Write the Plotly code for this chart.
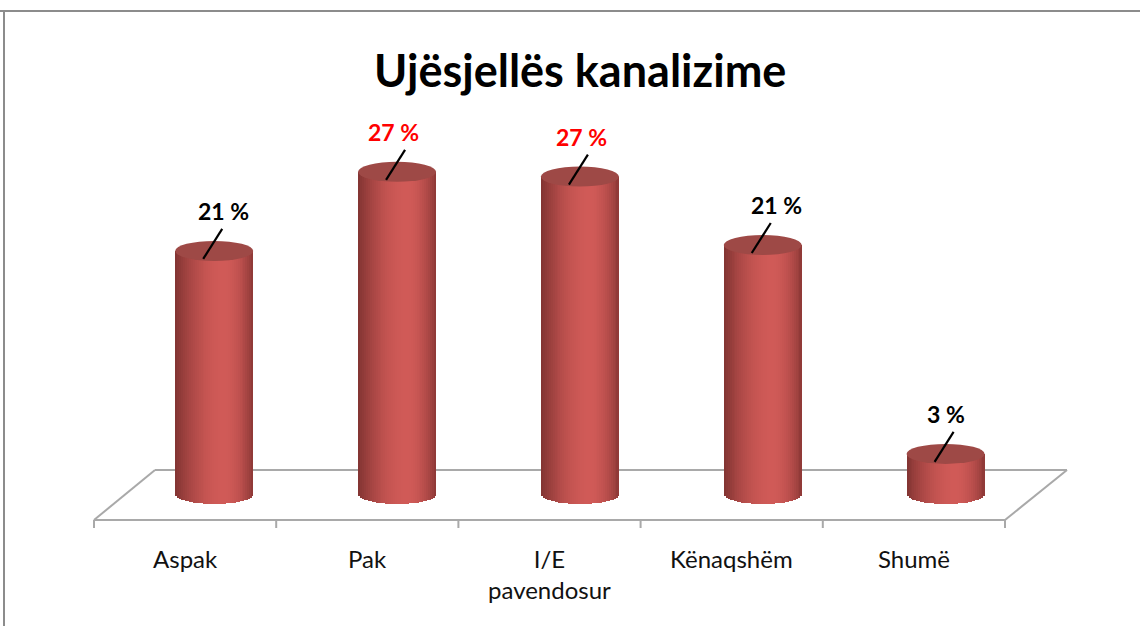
import numpy as np
import plotly.graph_objects as go

# ---------------- data ----------------
categories = ["Aspak", "Pak", "I/E<br>pavendosur", "Kënaqshëm", "Shumë"]
values = [20.6, 27.3, 26.9, 21.1, 3.4]          # percent
value_labels = ["21 %", "27 %", "27 %", "21 %", "3 %"]
title_text = "Ujësjellës kanalizime"

# ---------------- geometry / style ----------------
W_PX, H_PX = 1140, 626
X0_PX, X_STEP = 214.2, 182.85   # pixel of first cylinder centre, pixels per category
Y0_PX, Y_STEP = 494.0, 11.8     # pixel of base, pixels per percent


def px2x(p):
    return (p - X0_PX) / X_STEP


def py2y(p):
    return (Y0_PX - p) / Y_STEP


BW = 78 / X_STEP          # cylinder width (axis units)
RY = 10 / Y_STEP          # ellipse half height (axis units)
FONT = "Lato"

dark_l = np.array([0x80, 0x33, 0x31])
light = np.array([0xd0, 0x5a, 0x57])
dark_r = np.array([0x8a, 0x37, 0x35])
peak = 0.62


def shade(u):
    if u < peak:
        f = np.sin(u / peak * np.pi / 2) ** 0.9
        c = dark_l + (light - dark_l) * f
    else:
        f = np.cos((u - peak) / (1 - peak) * np.pi / 2) ** 0.8
        c = dark_r + (light - dark_r) * f
    c = np.clip(c.round().astype(int), 0, 255)
    return "rgb({},{},{})".format(*c)


xs = list(range(len(values)))
fig = go.Figure()

# cylinders as vertical strips with curved bottoms
N = 40
for k in range(N):
    u0 = k / N
    um = (k + 0.5) / N
    t = 2 * um - 1
    base = -RY * np.sqrt(max(0.0, 1 - t * t))
    wid = BW / N * (1.3 if k < N - 1 else 1.0)
    fig.add_trace(go.Bar(
        x=xs, y=[v - base for v in values], base=[base] * len(values),
        offset=-BW / 2 + u0 * BW, width=wid,
        marker=dict(color=shade(um), line=dict(width=0)),
        hoverinfo="skip", showlegend=False))

shapes = []

# floor (3-D category floor)
fx0, fx1 = px2x(94), px2x(1005)
bx0, bx1 = px2x(155), px2x(1067)
fy, by = py2y(520), py2y(470)
floor_col = "#a9a9a9"
for (xa, ya, xb, yb) in [(fx0, fy, fx1, fy), (bx0, by, bx1, by),
                         (fx0, fy, bx0, by), (fx1, fy, bx1, by)]:
    shapes.append(dict(type="line", xref="x", yref="y", x0=xa, y0=ya, x1=xb, y1=yb,
                       line=dict(color=floor_col, width=2), layer="below"))
ncat = len(categories)
for k in range(ncat + 1):
    xt = fx0 + (fx1 - fx0) * k / ncat
    shapes.append(dict(type="line", xref="x", yref="y", x0=xt, x1=xt, y0=fy, y1=py2y(528),
                       line=dict(color=floor_col, width=2), layer="below"))

# cylinder tops
for i, v in zip(xs, values):
    shapes.append(dict(type="circle", xref="x", yref="y",
                       x0=i - BW / 2, x1=i + BW / 2, y0=v - RY, y1=v + RY,
                       fillcolor="#9e4946", line=dict(width=0), layer="above"))

# connector lines for data labels
for i, v in zip(xs, values):
    shapes.append(dict(type="line", xref="x", yref="y",
                       x0=i - 11 / X_STEP, y0=v - 8 / Y_STEP,
                       x1=i + 8 / X_STEP, y1=v + 22 / Y_STEP,
                       line=dict(color="black", width=2.2), layer="above"))

# outer border (top and left)
shapes.append(dict(type="line", xref="paper", yref="paper", x0=0, x1=1,
                   y0=1 - 11 / H_PX, y1=1 - 11 / H_PX, line=dict(color="#8c8c8c", width=2)))
shapes.append(dict(type="line", xref="paper", yref="paper", x0=4 / W_PX, x1=4 / W_PX,
                   y0=0, y1=1 - 10 / H_PX, line=dict(color="#8c8c8c", width=2)))

annotations = []
label_dx = [9, -4, 2, 14, 0]
top_val = max(round(v) for v in values)
for i, v, lab, dx in zip(xs, values, value_labels, label_dx):
    col = "#ff0000" if round(v) == top_val else "#000000"
    annotations.append(dict(x=i + dx / X_STEP, y=v + 40 / Y_STEP, xref="x", yref="y",
                            yanchor="middle",
                            text="<b>" + lab + "</b>", showarrow=False,
                            font=dict(family=FONT, size=23, color=col)))

front_centres = [fx0 + (fx1 - fx0) * (k + 0.5) / ncat for k in range(ncat)]
for xc, cat in zip(front_centres, categories):
    annotations.append(dict(x=xc, y=py2y(542), xref="x", yref="y", yanchor="top",
                            text=cat, showarrow=False,
                            font=dict(family=FONT, size=24, color="#111111")))

annotations.append(dict(x=580 / W_PX, y=1 - 70 / H_PX, xref="paper", yref="paper",
                        yanchor="middle", xanchor="center",
                        text="<b>" + title_text + "</b>", showarrow=False,
                        font=dict(family=FONT, size=45, color="#000000")))

fig.update_layout(
    width=W_PX, height=H_PX, autosize=False,
    margin=dict(l=0, r=0, t=0, b=0, pad=0),
    paper_bgcolor="white", plot_bgcolor="white",
    barmode="overlay", bargap=0,
    xaxis=dict(range=[px2x(0), px2x(W_PX)], visible=False, fixedrange=True),
    yaxis=dict(range=[py2y(H_PX), py2y(0)], visible=False, fixedrange=True),
    shapes=shapes, annotations=annotations, showlegend=False,
)

fig.write_html("out.html", config={"displayModeBar": False},
               post_script="document.body.style.margin='0px';document.body.style.overflow='hidden';")
